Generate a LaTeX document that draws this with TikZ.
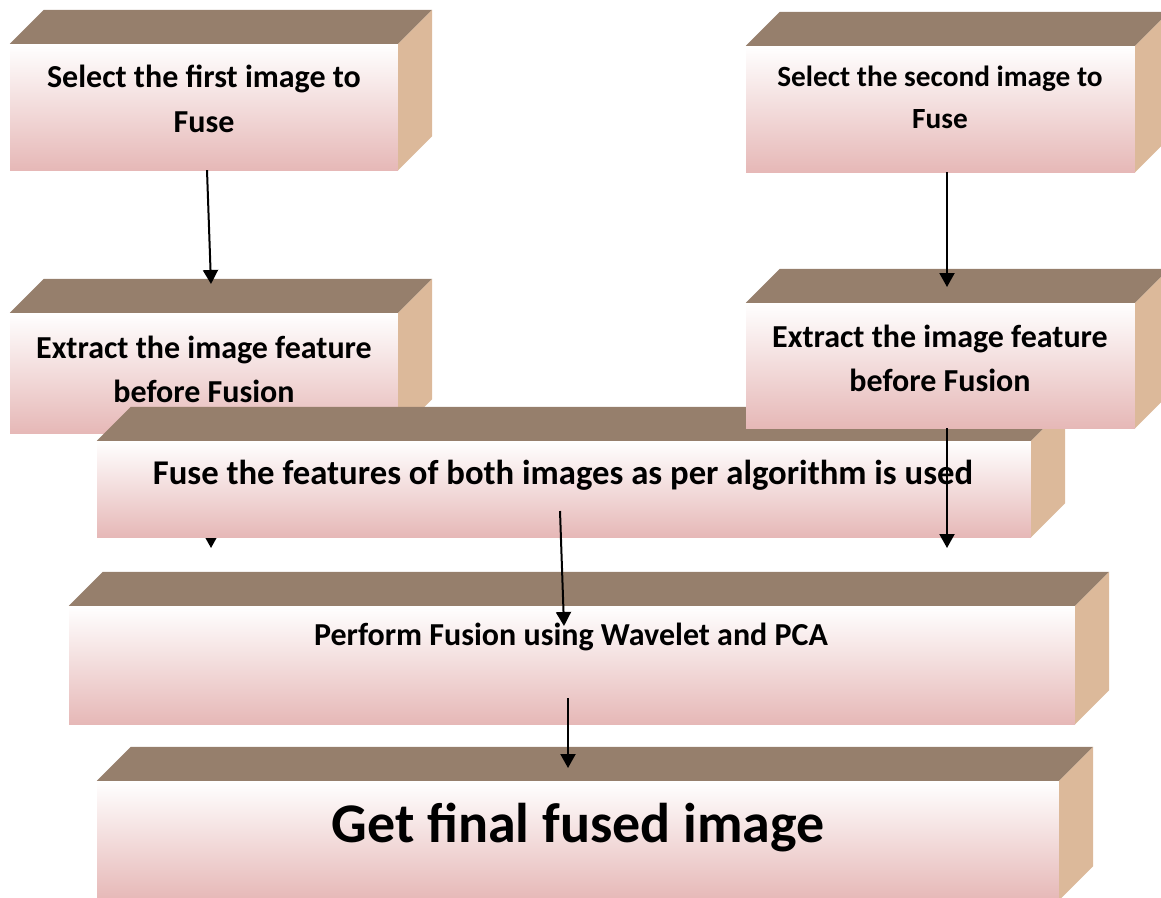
\documentclass[tikz,border=0pt]{standalone}
\usepackage{fontspec}
\setmainfont{Carlito}
\usetikzlibrary{arrows.meta}
\definecolor{topbrown}{RGB}{150,127,108}
\definecolor{sidetan}{RGB}{220,185,154}
\definecolor{frontpink}{RGB}{230,184,183}
\tikzset{
  front/.style={rectangle, inner sep=0pt, top color=white, bottom color=frontpink},
  topface/.style={fill=topbrown},
  sideface/.style={fill=sidetan},
  lbl/.style={align=center, inner sep=0pt},
  flow/.style={line width=2pt, -{Triangle[length=14pt,width=15pt]}}
}
\newcommand{\slabfaces}[1]{%
  \fill[topface] (#1.north west) -- ++(34,-34) -- ([shift={(34,-34)}]#1.north east) -- (#1.north east) -- cycle;
  \fill[sideface] (#1.north east) -- ++(34,-34) -- ([shift={(34,-34)}]#1.south east) -- (#1.south east) -- cycle;}

\begin{document}
\begin{tikzpicture}[x=1pt,y=-1pt]
    \useasboundingbox (0,0) rectangle (1161,897);
    % top row
    \node[front, minimum width=388, minimum height=126] (sel1) at (204,107) {};
    \slabfaces{sel1}
    \node[lbl, font=\bfseries\fontsize{32}{45}\selectfont] (sel1txt) at (204,99) {Select the first image to\\Fuse};
    \node[front, minimum width=389, minimum height=126] (sel2) at (940.5,109) {};
    \slabfaces{sel2}
    \node[lbl, font=\bfseries\fontsize{29.3}{42}\selectfont] (sel2txt) at (940,97) {Select the second image to\\Fuse};
    % second row
    \node[front, minimum width=388, minimum height=120] (ext1) at (204,373) {};
    \slabfaces{ext1}
    \node[lbl, font=\bfseries\fontsize{32}{44}\selectfont] (ext1txt) at (204,369) {Extract the image feature\\before Fusion};
    \coordinate (tipA) at (211,284);
    \coordinate (tipB) at (947,287);
    \coordinate (tipC) at (211,548);
    \coordinate (tipD) at (947,548);
    \draw[flow] ([xshift=3pt]sel1.south) -- (tipA);
    \draw[flow] (ext1.south -| tipC) -- (tipC);
    % fuse
    \node[front, minimum width=934, minimum height=96] (fuse) at (564,489) {};
    \slabfaces{fuse}
    \node[lbl, font=\bfseries\fontsize{34.7}{44}\selectfont] (fusetxt) at (563,475) {Fuse the features of both images as per algorithm is used};
    \node[front, minimum width=389, minimum height=125] (ext2) at (940.5,365.5) {};
    \slabfaces{ext2}
    \node[lbl, font=\bfseries\fontsize{32}{44}\selectfont] (ext2txt) at (940,358) {Extract the image feature\\before Fusion};
    \draw[flow] (sel2.south -| tipB) -- (tipB);
    \draw[flow] (ext2.south -| tipD) -- (tipD);
    % bottom rows
    \node[front, minimum width=1006, minimum height=118] (perf) at (572,665) {};
    \slabfaces{perf}
    \node[lbl, font=\bfseries\fontsize{32}{38}\selectfont] (perftxt) at (571,637) {Perform Fusion using Wavelet and PCA};
    \node[front, minimum width=962, minimum height=119] (final) at (578,840.5) {};
    \slabfaces{final}
    \node[lbl, font=\bfseries\fontsize{56}{60}\selectfont] (finaltxt) at (578,828) {Get final fused image};
    \coordinate (fuseout) at (560,511);
    \coordinate (tipE) at (564,626);
    \coordinate (perfout) at (568,698);
    \coordinate (tipF) at (568,768);
    \draw[flow] (fuseout) -- (tipE);
    \draw[flow] (perfout) -- (tipF);
\end{tikzpicture}
\end{document}
